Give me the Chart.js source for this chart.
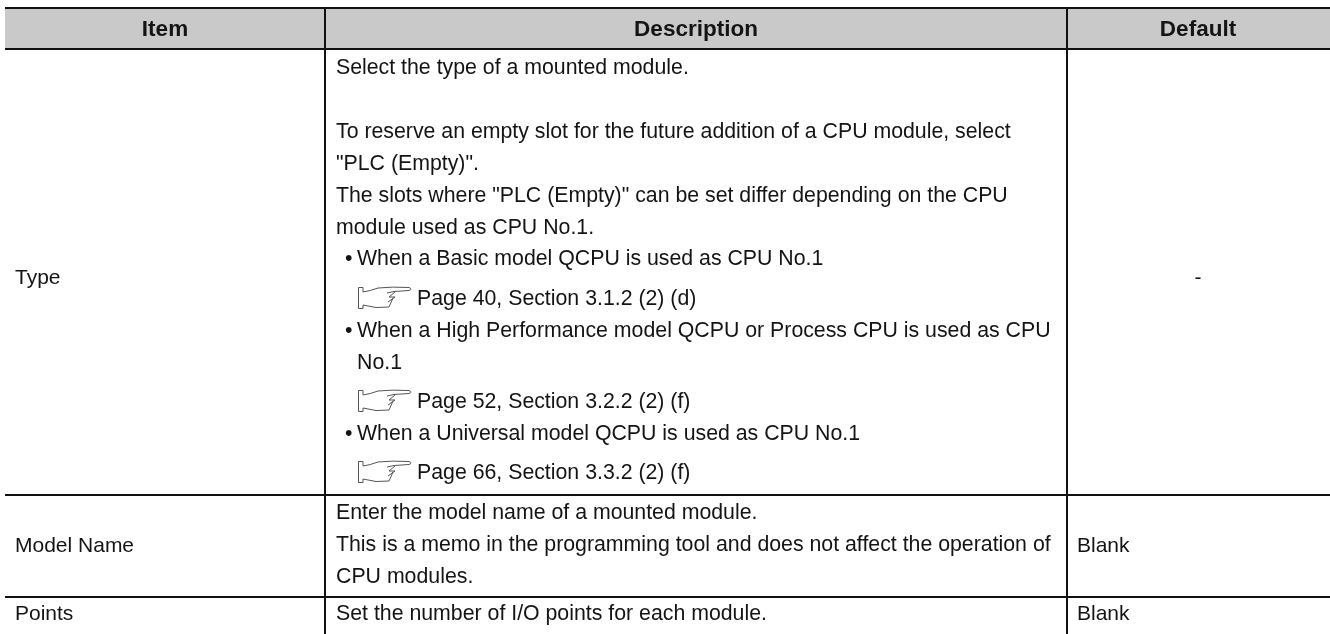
<!DOCTYPE html>
<html>
<head>
<meta charset="utf-8">
<title>Item table</title>
<script src="https://cdn.jsdelivr.net/npm/chart.js@4"></script>
<style>
    html, body { margin: 0; padding: 0; background: #fff; overflow: hidden; }
    canvas { display: block; }
</style>
</head>
<body>
<canvas id="tableChart" width="1330" height="634"></canvas>
<script>
const headers = ['Item', 'Description', 'Default'];
const items = ['Type', 'Model Name', 'Points'];
const defaults = ['-', 'Blank', 'Blank'];
const typeLines = [
    'Select the type of a mounted module.',
    'To reserve an empty slot for the future addition of a CPU module, select',
    '"PLC (Empty)".',
    'The slots where "PLC (Empty)" can be set differ depending on the CPU',
    'module used as CPU No.1.',
    '\u2022 When a Basic model QCPU is used as CPU No.1',
    'Page 40, Section 3.1.2 (2) (d)',
    '\u2022 When a High Performance model QCPU or Process CPU is used as CPU',
    'No.1',
    'Page 52, Section 3.2.2 (2) (f)',
    '\u2022 When a Universal model QCPU is used as CPU No.1',
    'Page 66, Section 3.3.2 (2) (f)'
];
const modelLines = [
    'Enter the model name of a mounted module.',
    'This is a memo in the programming tool and does not affect the operation of',
    'CPU modules.'
];
const pointsLines = ['Set the number of I/O points for each module.'];

// table layout, in the units of the two axes
const columnEdges = [325, 1067];
const rowEdges = [8, 49, 495, 597];
const headerCenters = [165, 696, 1198];
const itemBaselines = [284, 552, 620];
const typeBaselines = [74, 138, 170, 202, 234, 265, 305, 337, 369, 408, 440, 479];
const modelBaselines = [519, 551, 583];
const pointsBaselines = [620];

const bodyFont = '21.3px "Liberation Sans", Arial, sans-serif';
const cellFont = '21px "Liberation Sans", Arial, sans-serif';
const headFont = 'bold 22.5px "Liberation Sans", Arial, sans-serif';
const textColor = '#141414';

function drawHand(ctx, x, y) {
    ctx.save();
    ctx.translate(x, y);
    ctx.strokeStyle = '#555';
    ctx.lineWidth = 1;
    ctx.beginPath();
    ctx.moveTo(5, 0.5);
    ctx.lineTo(0.5, 0.5);
    ctx.lineTo(0.5, 21.5);
    ctx.lineTo(5, 21.5);
    ctx.moveTo(5, 0.5);
    ctx.lineTo(5, 5);
    ctx.quadraticCurveTo(12, 4, 20, 1);
    ctx.quadraticCurveTo(34, -0.5, 51, 0.5);
    ctx.quadraticCurveTo(55, 2, 51, 3.5);
    ctx.lineTo(36, 4.5);
    ctx.lineTo(29, 6);
    ctx.moveTo(37, 5);
    ctx.lineTo(31, 10);
    ctx.lineTo(37, 10);
    ctx.lineTo(30, 15);
    ctx.moveTo(35, 11);
    ctx.lineTo(31, 20);
    ctx.quadraticCurveTo(18, 22, 5, 18);
    ctx.lineTo(5, 21.5);
    ctx.stroke();
    ctx.restore();
}

const tableText = {
    id: 'tableText',
    afterDatasetsDraw(chart) {
        const { ctx, scales: { x, y } } = chart;
        const put = (text, xv, yv, align) => {
            ctx.textAlign = align || 'left';
            ctx.fillText(text, x.getPixelForValue(xv), y.getPixelForValue(yv));
        };
        ctx.save();
        ctx.fillStyle = textColor;
        ctx.textBaseline = 'alphabetic';

        ctx.font = headFont;
        headers.forEach((h, i) => put(h, headerCenters[i], 36, 'center'));

        ctx.font = cellFont;
        items.forEach((t, i) => put(t, 15, itemBaselines[i]));
        defaults.forEach((t, i) => {
            if (t === '-') put(t, headerCenters[2], itemBaselines[i], 'center');
            else put(t, 1077, itemBaselines[i]);
        });

        ctx.font = bodyFont;
        typeLines.forEach((line, i) => {
            const yv = typeBaselines[i];
            if (line.startsWith('Page')) {
                put(line, 417, yv);
                drawHand(ctx, x.getPixelForValue(358), y.getPixelForValue(yv - 18));
            } else if (line.startsWith('\u2022')) {
                put('\u2022', 345, yv);
                put(line.slice(2), 357, yv);
            } else if (line === 'No.1') {
                put(line, 357, yv);
            } else {
                put(line, 336, yv);
            }
        });
        modelLines.forEach((line, i) => put(line, 336, modelBaselines[i]));
        pointsLines.forEach((line, i) => put(line, 336, pointsBaselines[i]));
        ctx.restore();
    }
};

const ruleGrid = { color: '#111', lineWidth: 2, drawTicks: false, z: 1 };

new Chart(document.getElementById('tableChart').getContext('2d'), {
    type: 'scatter',
    data: {
        datasets: [{
            label: 'Header',
            data: [{ x: 5, y: rowEdges[1] }, { x: 1330, y: rowEdges[1] }],
            showLine: true,
            pointRadius: 0,
            borderWidth: 0,
            backgroundColor: '#c9c9c9',
            fill: { target: { value: rowEdges[0] } }
        }]
    },
    options: {
        responsive: false,
        animation: false,
        layout: { padding: { left: 5, top: 8 } },
        plugins: { legend: { display: false }, tooltip: { enabled: false } },
        scales: {
            x: {
                type: 'linear',
                min: 5,
                max: 1330,
                grid: ruleGrid,
                border: { display: false },
                ticks: { display: false },
                afterBuildTicks: axis => { axis.ticks = columnEdges.map(v => ({ value: v })); }
            },
            y: {
                type: 'linear',
                reverse: true,
                min: 8,
                max: 634,
                grid: ruleGrid,
                border: { display: false },
                ticks: { display: false },
                afterBuildTicks: axis => { axis.ticks = rowEdges.map(v => ({ value: v })); }
            }
        }
    },
    plugins: [tableText]
});
</script>
</body>
</html>
